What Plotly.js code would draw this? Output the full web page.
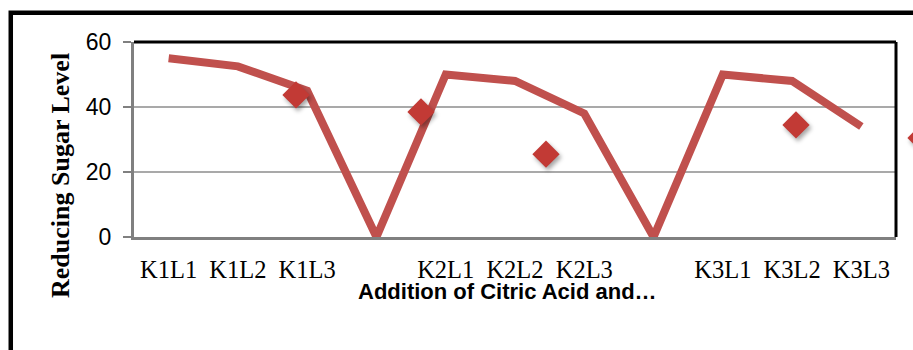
<!DOCTYPE html>
<html>
<head>
<meta charset="utf-8">
<script src="https://cdn.plot.ly/plotly-3.0.1.min.js"></script>
<style>
  html, body { margin: 0; padding: 0; background: #fff; overflow: hidden; }
  #chart { width: 940px; height: 350px; }
  /* soft drop shadow under the diamond markers */
  .subplot.x2y .point { filter: drop-shadow(2px 3px 2px rgba(0,0,0,0.35)); }
</style>
</head>
<body>
<div id="chart"></div>
<script>
// Treatment groups along the x axis (blank slots separate the K groups)
const categories = ['K1L1', 'K1L2', 'K1L3', '', 'K2L1', 'K2L2', 'K2L3', '', 'K3L1', 'K3L2', 'K3L3'];
// Reducing sugar level per treatment (line series)
const sugarLevel = [55, 52.5, 45, 0, 50, 48, 38, 0, 50, 48, 34];
// Second series plotted as diamonds on its own index scale
const diamondIndex = [1, 2, 3, 4, 5, 6];
const diamondLevel = [43.7, 38.5, 25.5, null, 34.5, 30.5];
const yTicks = [0, 20, 40, 60];

const xIdx = categories.map((_, i) => i);

const lineTrace = {
  x: xIdx,
  y: sugarLevel,
  type: 'scatter',
  mode: 'lines',
  line: { color: '#C0504D', width: 8 },
  hoverinfo: 'skip',
  showlegend: false
};

const diamondTrace = {
  x: diamondIndex,
  y: diamondLevel,
  xaxis: 'x2',
  type: 'scatter',
  mode: 'markers',
  marker: { symbol: 'diamond', size: 21, color: '#C23A35', line: { width: 0 } },
  cliponaxis: false,
  hoverinfo: 'skip',
  showlegend: false
};

// horizontal grid lines inside the framed plot area
const gridShapes = yTicks
  .filter(v => v > yTicks[0] && v < yTicks[yTicks.length - 1])
  .map(v => ({
    type: 'line', xref: 'x domain', yref: 'y', x0: 0, x1: 1, y0: v, y1: v,
    line: { color: '#8c8c8c', width: 1.5 }, layer: 'below'
  }));

const layout = {
  width: 940,
  height: 350,
  margin: { l: 134, r: 0, t: 42, b: 113 },
  paper_bgcolor: '#ffffff',
  plot_bgcolor: 'rgba(0,0,0,0)',
  xaxis: {
    domain: [0, 0.94541],
    range: [-0.5, categories.length - 0.5],
    tickvals: xIdx,
    ticktext: categories,
    ticks: '',
    showgrid: false,
    zeroline: false,
    showline: true,
    linecolor: '#808080',
    linewidth: 3,
    ticklabelstandoff: 9,
    tickfont: { family: 'Liberation Serif', size: 24.5, color: '#000' }
  },
  xaxis2: {
    domain: [0, 1],
    anchor: 'y',
    range: [-0.296, 6.152],
    visible: false
  },
  yaxis: {
    range: [0, 60],
    tickvals: yTicks,
    ticks: 'outside',
    ticklen: 8,
    tickwidth: 2,
    tickcolor: '#808080',
    showgrid: false,
    zeroline: false,
    showline: true,
    linecolor: '#808080',
    linewidth: 3,
    ticklabelstandoff: 7,
    tickfont: { family: 'Liberation Sans', size: 23, color: '#000' }
  },
  annotations: [
    { text: 'Reducing Sugar Level', xref: 'paper', yref: 'paper', x: -0.0906, y: 0.318,
      xanchor: 'center', yanchor: 'middle', textangle: -90, showarrow: false,
      font: { family: 'Liberation Serif', size: 26, color: '#000', weight: 'bold' } },
    { text: 'Addition of Citric Acid and…', xref: 'paper', yref: 'paper', x: 0.4634, y: -0.28,
      xanchor: 'center', yanchor: 'middle', showarrow: false,
      font: { family: 'Liberation Sans', size: 22, color: '#000', weight: 'bold' } }
  ],
  shapes: [
    // outer chart frame
    { type: 'rect', xref: 'paper', yref: 'paper', x0: -0.1529, y0: -0.8, x1: 1.2, y1: 1.1503,
      line: { color: '#000', width: 4.5 }, fillcolor: 'rgba(0,0,0,0)', layer: 'below' },
    // plot area top and right border
    { type: 'line', xref: 'x domain', yref: 'paper', x0: 0, y0: 1, x1: 1, y1: 1,
      line: { color: '#000', width: 3 } },
    { type: 'line', xref: 'x domain', yref: 'paper', x0: 1, y0: 0, x1: 1, y1: 1,
      line: { color: '#000', width: 3 } }
  ].concat(gridShapes)
};

Plotly.newPlot('chart', [lineTrace, diamondTrace], layout, { displayModeBar: false, staticPlot: true });
</script>
</body>
</html>
